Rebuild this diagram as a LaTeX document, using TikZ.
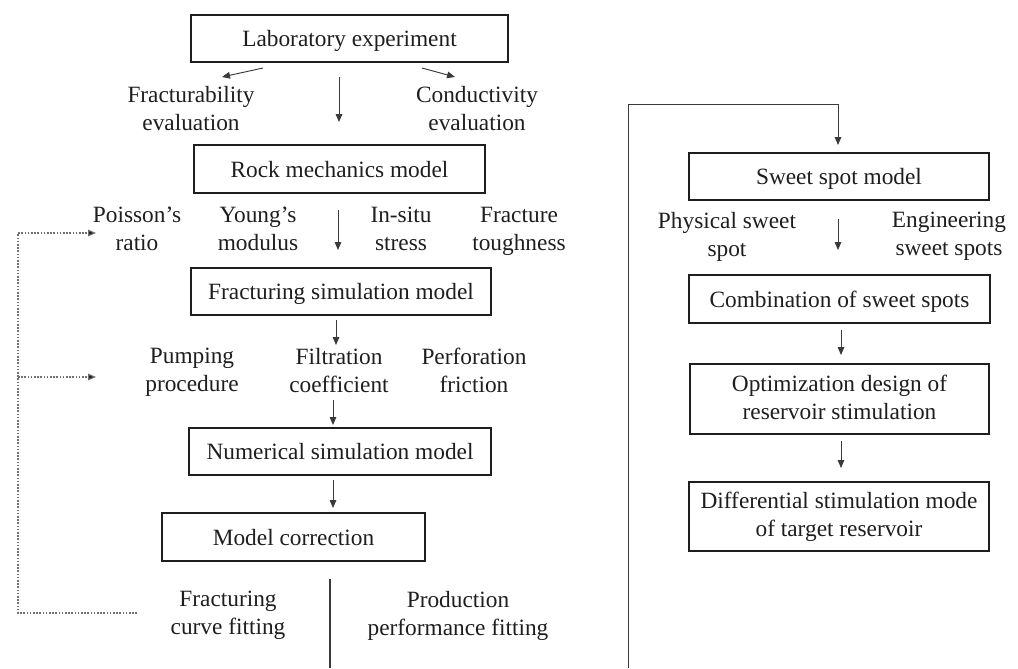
\documentclass[tikz,border=0pt]{standalone}
\usepackage{fontspec}
\setmainfont{Liberation Serif}
\usetikzlibrary{arrows.meta}
\definecolor{ink}{HTML}{1E1E1E}
\definecolor{ln}{HTML}{3A3A3A}
\definecolor{dl}{HTML}{707070}
\newcommand{\topstrut}{\rule{0pt}{18.5pt}}
\newcommand{\botstrut}{\rule[-3pt]{0pt}{3pt}}
\tikzset{
  txt/.style={inner sep=0pt, text=ink, align=center,
    font=\fontsize{17.5pt}{21pt}\selectfont},
  boxframe/.style={txt, draw=ink, line width=1.1pt},
  box/.style={boxframe, text height=13.5pt, text depth=1pt},
  box2/.style={boxframe, execute at begin node=\topstrut, execute at end node=\botstrut},
  lbl/.style={txt, execute at begin node=\topstrut, execute at end node=\botstrut},
  arr/.style={draw=ln, line width=0.7pt, -{Triangle[length=6pt,width=5pt]}},
  plain/.style={draw=ln, line width=0.8pt},
  dot/.style={draw=dl, line width=0.8pt, dash pattern=on 1.2pt off 1.2pt},
  dotarr/.style={dot, -{Triangle[length=6pt,width=5pt,fill=ink]}},
}
\begin{document}
\begin{tikzpicture}[x=0.75pt,y=-0.75pt]
\useasboundingbox (0,0) rectangle (1018,668);
% boxes
\node[box, minimum width={317*0.75pt}, minimum height={47*0.75pt}] (lab) at (349.5,38.5) {Laboratory experiment};
\node[box, minimum width={291*0.75pt}, minimum height={48*0.75pt}] (rock) at (339.5,169) {Rock mechanics model};
\node[box, minimum width={300*0.75pt}, minimum height={47*0.75pt}] (frac) at (341,291.5) {Fracturing simulation model};
\node[box, minimum width={302*0.75pt}, minimum height={47*0.75pt}] (num) at (340,451.5) {Numerical simulation model};
\node[box, minimum width={263*0.75pt}, minimum height={48*0.75pt}] (corr) at (293.5,537) {Model correction};
\node[box, minimum width={300*0.75pt}, minimum height={47*0.75pt}] (sweet) at (839,176.5) {Sweet spot model};
\node[box, minimum width={301*0.75pt}, minimum height={48*0.75pt}] (comb) at (839.5,299) {Combination of sweet spots};
\node[box2, minimum width={299*0.75pt}, minimum height={70*0.75pt}] (opt) at (839.5,399) {Optimization design of\\reservoir stimulation};
\node[box2, minimum width={300*0.75pt}, minimum height={69*0.75pt}] (diff) at (839,516.5) {Differential stimulation mode\\of target reservoir};
% labels
\node[lbl] (feval) at (191,110.5) {Fracturability\\evaluation};
\node[lbl] (ceval) at (477,110.5) {Conductivity\\evaluation};
\node[lbl] (poisson) at (137,231) {Poisson’s\\ratio};
\node[lbl] (young) at (258,231) {Young’s\\modulus};
\node[lbl] (insitu) at (401,231) {In-situ\\stress};
\node[lbl] (tough) at (519,231) {Fracture\\toughness};
\node[lbl] (pump) at (192,372.5) {Pumping\\procedure};
\node[lbl] (filt) at (339,372.5) {Filtration\\coefficient};
\node[lbl] (perf) at (474,372.5) {Perforation\\friction};
\node[lbl] (fcf) at (228,615.5) {Fracturing\\curve fitting};
\node[lbl] (ppf) at (458,615.5) {Production\\performance fitting};
\node[lbl] (phys) at (727,236.5) {Physical sweet\\spot};
\node[lbl] (eng) at (949,236.5) {Engineering\\sweet spots};
% connector points
\coordinate (a1s) at (263,68); \coordinate (a1e) at (222,77);
\coordinate (a2s) at (339,77); \coordinate (a2e) at (339,122);
\coordinate (a3s) at (422,68); \coordinate (a3e) at (455,77);
\coordinate (a4s) at (338,210); \coordinate (a4e) at (338,250);
\coordinate (a5s) at (336,320); \coordinate (a5e) at (336,345);
\coordinate (a6s) at (333,400); \coordinate (a6e) at (333,425);
\coordinate (a7s) at (333,480); \coordinate (a7e) at (333,508);
\coordinate (vls) at (330,579); \coordinate (vle) at (330,668);
\coordinate (d0) at (137,613); \coordinate (d1) at (18,613);
\coordinate (d2) at (18,233); \coordinate (d3) at (96,233);
\coordinate (d4) at (18,377); \coordinate (d5) at (96,377);
\coordinate (r0) at (628,668); \coordinate (r1) at (628,104);
\coordinate (r2) at (838,104); \coordinate (r3) at (838,145);
\coordinate (b1s) at (838,219); \coordinate (b1e) at (838,250);
\coordinate (b2s) at (841,330); \coordinate (b2e) at (841,355);
\coordinate (b3s) at (841,441); \coordinate (b3e) at (841,468);
% connectors
\draw[arr] (a1s) -- (a1e);
\draw[arr] (a2s) -- (a2e);
\draw[arr] (a3s) -- (a3e);
\draw[arr] (a4s) -- (a4e);
\draw[arr] (a5s) -- (a5e);
\draw[arr] (a6s) -- (a6e);
\draw[arr] (a7s) -- (a7e);
\draw[plain] (vls) -- (vle);
\draw[dotarr] (d0) -- (d1) -- (d2) -- (d3);
\draw[dotarr] (d4) -- (d5);
\draw[arr] (r0) -- (r1) -- (r2) -- (r3);
\draw[arr] (b1s) -- (b1e);
\draw[arr] (b2s) -- (b2e);
\draw[arr] (b3s) -- (b3e);
\end{tikzpicture}
\end{document}
